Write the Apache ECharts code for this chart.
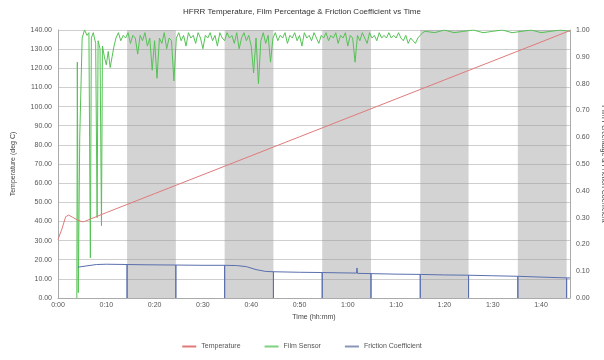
<!DOCTYPE html>
<html><head><meta charset="utf-8">
<script src="https://cdn.jsdelivr.net/npm/echarts@6/dist/echarts.min.js"></script>
<style>html,body{margin:0;padding:0;background:#fff}#c{width:604px;height:360px}</style>
</head><body><div id="c"></div>
<script>
var titleText = 'HFRR Temperature, Film Percentage & Friction Coefficient vs Time';
var seriesNames = ['Temperature', 'Film Sensor', 'Friction Coefficient'];
// time in minutes, temperature in deg C
var temperature = [[0,30.5],[0.8,36],[1.6,42.5],[2.2,43.3],[3,42.2],[4,40.8],[5,39.8],[5.5,40],[10,44.6],[20,54.5],[30,64.4],[40,74.3],[50,84.2],[60,94.1],[70,104],[80,113.9],[90,123.8],[100,133.7],[106,139.7]];
// film percentage (0..1)
var film = [[3.9,0],[4.0,0.88],[4.2,0.02],[4.5,0.6],[5.0,0.97],[5.5,1.0],[6.0,0.98],[6.4,0.99],[6.7,0.15],[6.9,0.97],[7.3,0.99],[7.8,0.95],[8.1,0.3],[8.3,0.96],[8.7,0.93],[9.0,0.27],[9.2,0.94],[9.6,0.9],[10.0,0.87],[10.4,0.92],[10.8,0.86],[11.2,0.9],[11.6,0.94],
[12.0,0.97],[12.5,0.99],[13.0,0.96],[13.5,0.98],[14.0,0.97],[14.5,0.99],[15.0,0.95],[15.5,0.98],[16.0,0.97],[16.5,0.91],[17.0,0.98],[17.5,0.96],[18.0,0.99],[18.5,0.94],[19.0,0.97],[19.5,0.85],[20.0,0.96],[20.5,0.82],[21.0,0.97],[21.5,0.95],[22.0,0.99],[22.5,0.93],[23.0,0.97],[23.5,0.96],[24.0,0.81],[24.5,0.97],[25.0,0.99],[25.5,0.96],[26.0,0.98],[26.5,0.94],[27.0,0.99],[27.5,0.97],[28.0,0.98],[28.5,0.95],[29.0,0.99],[29.5,0.97],[30.0,0.93],[30.5,0.98],[31.0,0.97],[31.5,0.99],[32.0,0.96],[32.5,0.98],[33.0,0.94],[33.5,0.99],[34.0,0.97],[34.5,0.96],[35.0,0.99],[35.5,0.97],[36.0,0.98],[36.5,0.95],[37.0,0.99],[37.5,0.93],[38.0,0.97],[38.5,0.99],[39.0,0.96],[39.5,0.98],[40.0,0.94],[40.5,0.84],[41.0,0.97],[41.5,0.8],[42.0,0.96],[42.5,0.99],[43.0,0.95],[43.5,0.98],[44.0,0.88],[44.5,0.97],[45.0,0.99],[45.5,0.96],[46.0,0.98],[46.5,0.97],[47.0,0.99],[47.5,0.95],[48.0,0.98],[48.5,0.97],[49.0,0.99],[49.5,0.96],[50.0,0.98],[50.5,0.94],[51.0,0.99],[51.5,0.97],[52.0,0.98],[52.5,0.96],[53.0,0.99],[53.5,0.97],[54.0,0.95],[54.5,0.98],[55.0,0.97],[55.5,0.99],[56.0,0.96],[56.5,0.98],[57.0,0.97],[57.5,0.99],[58.0,0.95],[58.5,0.98],[59.0,0.97],[59.5,0.99],[60.0,0.94],[60.5,0.98],[61.0,0.97],[61.5,0.88],[62.0,0.98],[62.5,0.96],[63.0,0.99],[63.5,0.97],[64.0,0.95],[64.5,0.99],[65.0,0.97],[65.5,0.98],[66.0,0.96],[66.5,0.99],[67.0,0.97],[67.5,0.98],[68.0,0.97],[68.5,0.99],[69.0,0.97],[69.5,0.98],[70.0,0.97],[70.5,0.99],[71.0,0.97],[71.5,0.96],[72.0,0.98],[72.5,0.95],[73.0,0.97],[73.5,0.96],[74.0,0.95],[74.5,0.97],[75.0,0.98],[75.5,0.99],
[76,0.995],[78,0.99],[80,1.0],[82,0.99],[84,0.995],[86,1.0],[88,0.99],[90,0.995],[92,1.0],[94,0.99],[96,0.995],[98,1.0],[100,0.99],[102,0.995],[104,1.0],[106,0.995]];
// friction coefficient
var friction = [[4.1,0.115],[6,0.12],[8,0.125],[10,0.126],[14.3,0.125],[14.3,0],[14.3,0.125],[18,0.124],[24.4,0.123],[24.4,0],[24.4,0.123],[30,0.122],[34.5,0.122],[34.5,0],[34.5,0.122],[37,0.121],[39,0.117],[41,0.106],[43,0.099],[44.6,0.098],[44.6,0],[44.6,0.098],[50,0.096],[54.7,0.095],[54.7,0],[54.7,0.095],[58,0.094],[61.8,0.093],[61.9,0.112],[62.0,0.092],[64.8,0.091],[64.8,0],[64.8,0.091],[70,0.089],[75,0.088],[75,0],[75,0.088],[80,0.086],[85,0.085],[85,0],[85,0.085],[90,0.083],[95.2,0.081],[95.2,0],[95.2,0.081],[100,0.078],[105.3,0.075],[105.3,0],[105.3,0.075],[106,0.075]];
// shaded time bands (minutes)
var bands = [[14.3,24.4],[34.5,44.6],[54.7,64.8],[75,85],[95.2,105.3]];

var chart = echarts.init(document.getElementById('c'), null, {renderer:'canvas'});
var font = 'Liberation Sans, Arial, sans-serif';
function hm(v){ var h=Math.floor(v/60), m=Math.round(v%60); return h+':' + (m<10?'0':'')+m; }
chart.setOption({
  animation:false,
  backgroundColor:'#fff',
  title:{text:titleText,left:'center',top:3,textStyle:{fontFamily:font,fontSize:8,fontWeight:'normal',color:'#333'}},
  legend:{bottom:5,left:'center',itemWidth:14,itemHeight:2,itemGap:24,icon:'rect',
    textStyle:{fontFamily:font,fontSize:7,color:'#555'},data:seriesNames},
  grid:{left:58,right:34,top:30,bottom:62,outerBoundsMode:'none',containLabel:false},
  xAxis:{type:'value',min:0,max:106,interval:10,name:'Time (hh:mm)',nameLocation:'middle',nameGap:13,
    nameTextStyle:{fontFamily:font,fontSize:7,color:'#444'},
    axisLine:{show:true,lineStyle:{color:'#aaa'}},axisTick:{show:false},
    axisLabel:{fontFamily:font,fontSize:7,color:'#555',margin:4,formatter:hm,showMaxLabel:false},
    splitLine:{show:false}},
  yAxis:[
    {type:'value',min:0,max:140,interval:10,name:'Temperature (deg C)',nameLocation:'middle',nameGap:41,
     nameTextStyle:{fontFamily:font,fontSize:7,color:'#444'},
     axisLine:{show:true,lineStyle:{color:'#aaa'}},axisTick:{show:false},
     axisLabel:{fontFamily:font,fontSize:7,color:'#555',margin:6,formatter:function(v){return v.toFixed(2);}},
     splitLine:{show:true,lineStyle:{color:'#cfcfcf',width:1}}},
    {type:'value',min:0,max:1,interval:0.1,name:'Film Percentage & Friction Coefficient',nameLocation:'middle',nameGap:17,nameRotate:-90,
     nameTextStyle:{fontFamily:font,fontSize:7,color:'#444'},
     axisLine:{show:true,lineStyle:{color:'#aaa'}},axisTick:{show:false},
     axisLabel:{fontFamily:font,fontSize:7,color:'#555',margin:6,formatter:function(v){return v.toFixed(2);}},
     splitLine:{show:false}}
  ],
  series:[
    {name:seriesNames[0],type:'line',yAxisIndex:0,data:temperature,showSymbol:false,symbol:'none',
     lineStyle:{color:'#e07a7a',width:1},itemStyle:{color:'#e07a7a'},z:4,
     markArea:{silent:true,itemStyle:{color:'rgba(150,150,150,0.42)'},
       data:bands.map(function(b){return [{xAxis:b[0]},{xAxis:b[1]}];})}},
    {name:seriesNames[1],type:'line',yAxisIndex:1,data:film,showSymbol:false,symbol:'none',
     lineStyle:{color:'#55c255',width:1},itemStyle:{color:'#7fd07f'},z:3},
    {name:seriesNames[2],type:'line',yAxisIndex:1,data:friction,showSymbol:false,symbol:'none',
     lineStyle:{color:'#5a6fae',width:1},itemStyle:{color:'#8a96b8'},z:3}
  ]
});
</script></body></html>
